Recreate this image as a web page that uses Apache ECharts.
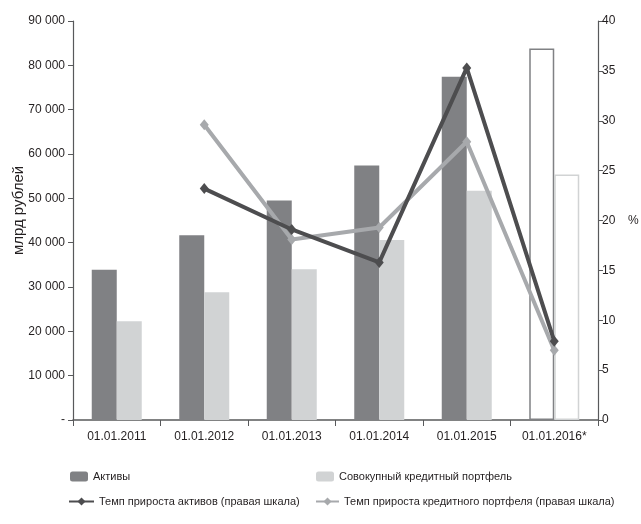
<!DOCTYPE html>
<html>
<head>
<meta charset="utf-8">
<script src="https://cdn.jsdelivr.net/npm/echarts@6/dist/echarts.min.js"></script>
<style>
html, body { margin: 0; padding: 0; background: #fff; }
#chart { width: 641px; height: 524px; }
</style>
</head>
<body>
<div id="chart"></div>
<script>
// данные
var categories = ['01.01.2011', '01.01.2012', '01.01.2013', '01.01.2014', '01.01.2015', '01.01.2016*'];
var assets = [33900, 41700, 49500, 57400, 77400, 83800];
var credit = [22300, 28800, 34000, 40600, 51700, 55400];
var assetsGrowth = [null, 23.2, 19.1, 15.8, 35.3, 7.9];
var creditGrowth = [null, 29.6, 18.1, 19.3, 27.9, 7.0];

var FONT = "'Liberation Sans', Arial, sans-serif";
var DARK_BAR = '#808184', LIGHT_BAR = '#d1d3d4';
var DARK_LINE = '#4d4d4f', LIGHT_LINE = '#a7a9ac';
var AXIS = '#58595b';
var TXT = '#231f20';

// последний год - прогноз, пустые столбики с рамкой
function barData(values, color) {
    var out = [];
    for (var i = 0; i < values.length; i++) {
        if (i == values.length - 1) {
            out.push({ value: values[i], itemStyle: { color: '#fff', borderColor: color, borderWidth: 1.5 } });
        } else {
            out.push(values[i]);
        }
    }
    return out;
}

function fmtThousands(v) {
    if (v == 0) return '-';
    var s = String(v);
    return s.slice(0, s.length - 3) + ' ' + s.slice(s.length - 3);
}

var legendText = { fontFamily: FONT, fontSize: 11, color: TXT };

var myChart = echarts.init(document.getElementById('chart'));
var option = {
    animation: false,
    textStyle: { fontFamily: FONT },
    grid: { left: 73, right: 43, top: 21, bottom: 104, outerBoundsMode: 'none' },
    legend: [
        { left: 65, top: 466, itemWidth: 18, itemHeight: 10, data: ['Активы'], textStyle: legendText },
        { left: 311, top: 466, itemWidth: 18, itemHeight: 10, data: ['Совокупный кредитный портфель'], textStyle: legendText },
        { left: 63, top: 491, itemWidth: 25, itemHeight: 10, data: ['Темп прироста активов (правая шкала)'], textStyle: legendText },
        { left: 310, top: 491, itemWidth: 23, itemHeight: 10, data: ['Темп прироста кредитного портфеля (правая шкала)'], textStyle: legendText }
    ],
    xAxis: {
        type: 'category',
        data: categories,
        axisLine: { lineStyle: { color: AXIS, width: 1.5 } },
        axisTick: { show: true, length: 6, lineStyle: { color: AXIS } },
        axisLabel: { interval: 0, color: TXT, fontSize: 12, margin: 11, fontFamily: FONT }
    },
    yAxis: [
        {
            type: 'value', min: 0, max: 90000, interval: 10000,
            name: 'млрд рублей', nameLocation: 'middle', nameGap: 47, nameRotate: 90,
            nameMoveOverlap: false,
            nameTextStyle: { fontFamily: FONT, fontSize: 15, color: TXT, padding: [0, 0, 0, 20] },
            axisLine: { show: true, lineStyle: { color: AXIS, width: 1.2 } },
            axisTick: { show: true, length: 5, lineStyle: { color: AXIS } },
            axisLabel: { formatter: fmtThousands, color: TXT, fontSize: 12, margin: 8, fontFamily: FONT },
            splitLine: { show: false }
        },
        {
            type: 'value', min: 0, max: 40, interval: 5, position: 'right',
            name: '%', nameLocation: 'middle', nameGap: 30, nameRotate: 0,
            nameTextStyle: { fontFamily: FONT, fontSize: 12, color: TXT },
            axisLine: { show: true, lineStyle: { color: AXIS, width: 1.2 } },
            axisTick: { show: true, length: 5, lineStyle: { color: AXIS } },
            axisLabel: { color: TXT, fontSize: 12, margin: 4, fontFamily: FONT },
            splitLine: { show: false }
        }
    ],
    series: [
        { name: 'Активы', type: 'bar', barWidth: 25, barGap: '0%',
          itemStyle: { color: DARK_BAR }, data: barData(assets, DARK_BAR) },
        { name: 'Совокупный кредитный портфель', type: 'bar', barWidth: 25,
          itemStyle: { color: LIGHT_BAR }, data: barData(credit, LIGHT_BAR) },
        { name: 'Темп прироста активов (правая шкала)', type: 'line', yAxisIndex: 1, z: 5,
          symbol: 'diamond', symbolSize: [9, 11], showSymbol: true,
          lineStyle: { color: DARK_LINE, width: 4 }, itemStyle: { color: DARK_LINE },
          data: assetsGrowth },
        { name: 'Темп прироста кредитного портфеля (правая шкала)', type: 'line', yAxisIndex: 1, z: 4,
          symbol: 'diamond', symbolSize: [9, 11], showSymbol: true,
          lineStyle: { color: LIGHT_LINE, width: 4 }, itemStyle: { color: LIGHT_LINE },
          data: creditGrowth }
    ]
};
myChart.setOption(option, true);
</script>
</body>
</html>
